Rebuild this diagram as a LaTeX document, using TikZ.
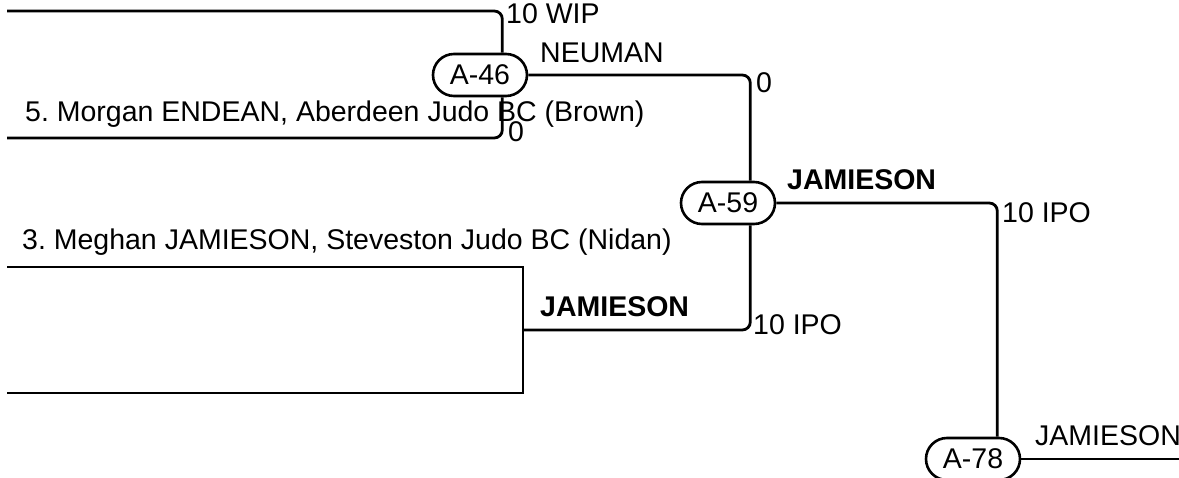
\documentclass[tikz,border=0pt]{standalone}
\usepackage{fontspec}
\setmainfont{Liberation Sans}
\usepackage{tikz}
\usetikzlibrary{positioning,calc}
\frenchspacing

\begin{document}
\begin{tikzpicture}[x=1pt, y=-1pt,
  font=\fontsize{28.5pt}{34pt}\selectfont,
  bout/.style={draw, line width=2.6pt, rounded corners=21pt, minimum width=94pt, minimum height=42pt, inner sep=0pt},
  wire/.style={line width=2.8pt, rounded corners=8pt},
  lbl/.style={inner sep=0pt, anchor=base west},
  win/.style={inner sep=0pt, anchor=base west, font=\fontsize{28.5pt}{34pt}\selectfont\bfseries}]
\useasboundingbox (0,0) rectangle (1179,478);
\node[bout] (a46) at (480,75) {A-46};
\node[bout] (a59) at (728,203) {A-59};
\node[bout] (a78) at (973,459) {A-78};
\coordinate (e1) at (7,11);
\coordinate (e2) at (7,138);
\coordinate (e3) at (7,267);
\coordinate (e4) at (7,393);
\coordinate (k1) at (523,330);
\coordinate (e5) at (1179,459);
\draw[wire] (e1) -| ([xshift=-26pt]a46.north east);
\draw[wire] (e2) -| ([xshift=-26pt]a46.south east);
\draw[wire, sharp corners] (e3) -| (k1) |- (e4);
\draw[wire] (a46.east) -| ([xshift=-26pt]a59.north east);
\draw[wire] (k1) -| ([xshift=-26pt]a59.south east);
\draw[wire] (a59.east) -| ([xshift=-24pt]a78.north east);
\draw[wire] (a78.east) -- (e5);
\node[lbl] (s1) at (506,24) {10 WIP};
\node[lbl] (w46) at (540,63) {NEUMAN};
\node[lbl] (p5) at (25,122) {5. Morgan ENDEAN, Aberdeen Judo BC (Brown)};
\node[lbl] (s2) at (508,142) {0};
\node[lbl] (s3) at (756,93) {0};
\node[win] (w59) at (787,190) {JAMIESON};
\node[lbl] (s4) at (1002,223) {10 IPO};
\node[lbl] (p3) at (22,250) {3. Meghan JAMIESON, Steveston Judo BC (Nidan)};
\node[win] (wq) at (540,317) {JAMIESON};
\node[lbl] (s5) at (753,335) {10 IPO};
\node[lbl] (w78) at (1035,446) {JAMIESON};
\end{tikzpicture}
\end{document}
